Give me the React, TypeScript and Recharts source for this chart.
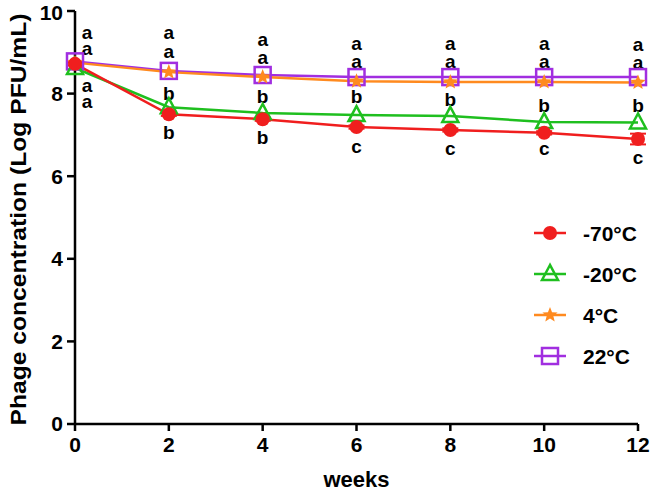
import { ComposedChart, Line, XAxis, YAxis, ReferenceDot, ErrorBar } from 'recharts';

const weeks = [0, 2, 4, 6, 8, 10, 12];
const minus70 = [8.72, 7.5, 7.38, 7.19, 7.12, 7.05, 6.9];
const minus70Err = [0.04, 0.04, 0.04, 0.04, 0.04, 0.04, 0.13];
const minus20 = [8.62, 7.67, 7.53, 7.48, 7.46, 7.31, 7.3];
const plus4 = [8.75, 8.52, 8.4, 8.3, 8.28, 8.28, 8.27];
const plus22 = [8.78, 8.55, 8.45, 8.4, 8.4, 8.4, 8.4];

const yTicks = [0, 2, 4, 6, 8, 10];

// significance letters, four per week
const letterWeek = [0, 0, 0, 0, 2, 2, 2, 2, 4, 4, 4, 4, 6, 6, 6, 6, 8, 8, 8, 8, 10, 10, 10, 10, 12, 12, 12, 12];
const letterText = ['a', 'a', 'a', 'a', 'a', 'a', 'b', 'b', 'a', 'a', 'b', 'b', 'a', 'a', 'b', 'c', 'a', 'a', 'b', 'c', 'a', 'a', 'b', 'c', 'a', 'a', 'b', 'c'];
const letterY = [9.49, 9.08, 8.2, 7.82, 9.47, 9.03, 8.01, 7.05, 9.3, 8.88, 7.94, 6.94, 9.22, 8.78, 7.94, 6.71, 9.22, 8.78, 7.85, 6.68, 9.22, 8.78, 7.72, 6.68, 9.18, 8.75, 7.7, 6.46];

const RED = '#f01e1e';
const GREEN = '#1fbf1f';
const ORANGE = '#ff8a1f';
const PURPLE = '#a12ee0';
const FONT = '"Liberation Sans", Arial, sans-serif';

const data = weeks.map((w, i) => ({
  week: w,
  m70: minus70[i],
  m70err: minus70Err[i],
  m20: minus20[i],
  p4: plus4[i],
  p22: plus22[i],
}));

function starPath(cx: number, cy: number, ro: number, ri: number) {
  let d = '';
  for (let k = 0; k < 10; k++) {
    const r = k % 2 === 0 ? ro : ri;
    const a = -Math.PI / 2 + (k * Math.PI) / 5;
    d += (k === 0 ? 'M' : 'L') + (cx + r * Math.cos(a)).toFixed(2) + ',' + (cy + r * Math.sin(a)).toFixed(2);
  }
  return d + 'Z';
}

function Marker({ kind, cx, cy }: { kind: string; cx: number; cy: number }) {
  if (kind === 'circle') return <circle cx={cx} cy={cy} r={7} fill={RED} />;
  if (kind === 'triangle')
    return (
      <polygon
        points={`${cx},${cy - 9} ${cx - 8},${cy + 6} ${cx + 8},${cy + 6}`}
        fill="none"
        stroke={GREEN}
        strokeWidth={2.5}
      />
    );
  if (kind === 'star') return <path d={starPath(cx, cy, 8, 3.5)} fill={ORANGE} />;
  return <rect x={cx - 8} y={cy - 8} width={16} height={16} fill="none" stroke={PURPLE} strokeWidth={2.5} />;
}

const dotFor = (kind: string) => (p: any) => <Marker key={`${kind}-${p.index}`} kind={kind} cx={p.cx} cy={p.cy} />;

const legendItems = [
  { label: '-70°C', color: RED, kind: 'circle' },
  { label: '-20°C', color: GREEN, kind: 'triangle' },
  { label: '4°C', color: ORANGE, kind: 'star' },
  { label: '22°C', color: PURPLE, kind: 'square' },
];

function LegendBox() {
  return (
    <svg width={130} height={160} style={{ position: 'absolute', left: 525, top: 215 }}>
      {legendItems.map((it, i) => {
        const y = 18 + i * 41;
        return (
          <g key={it.label}>
            <line x1={9} x2={41} y1={y} y2={y} stroke={it.color} strokeWidth={2.5} />
            <Marker kind={it.kind} cx={25} cy={y} />
            <text x={58} y={y} dominantBaseline="central" fontFamily={FONT} fontWeight="bold" fontSize={21} fill="#000">
              {it.label}
            </text>
          </g>
        );
      })}
    </svg>
  );
}

function YLabel(props: any) {
  const vb = props.viewBox;
  const cy = vb.y + vb.height / 2 + 2;
  return (
    <text
      x={18}
      y={cy}
      transform={`rotate(-90, 18, ${cy})`}
      textAnchor="middle"
      dominantBaseline="central"
      fontFamily={FONT}
      fontWeight="bold"
      fontSize={22}
      textLength={412}
      lengthAdjust="spacingAndGlyphs"
      fill="#000"
    >
      Phage concentration (Log PFU/mL)
    </text>
  );
}

export default function App() {
  return (
    <div style={{ position: 'absolute', left: 0, top: 0, width: 657, height: 493, background: '#fff' }}>
      <ComposedChart width={657} height={493} data={data} margin={{ top: 11, right: 19, bottom: 0, left: 0 }}>
        <XAxis
          dataKey="week"
          type="number"
          domain={[0, 12]}
          ticks={weeks}
          height={69}
          stroke="#000"
          strokeWidth={2.5}
          tickSize={7}
          tickMargin={6}
          tick={{ fill: '#000', fontSize: 21, fontWeight: 'bold', fontFamily: FONT }}
          label={{ value: 'weeks', position: 'insideBottom', offset: 6, fill: '#000', fontSize: 22, fontWeight: 'bold', fontFamily: FONT }}
        />
        <YAxis
          type="number"
          domain={[0, 10]}
          ticks={yTicks}
          width={75}
          stroke="#000"
          strokeWidth={2.5}
          tickSize={8}
          tickMargin={4}
          tick={{ fill: '#000', fontSize: 21, fontWeight: 'bold', fontFamily: FONT }}
          label={<YLabel />}
        />
        <Line dataKey="p22" stroke={PURPLE} strokeWidth={2.5} dot={dotFor('square')} isAnimationActive={false} />
        <Line dataKey="p4" stroke={ORANGE} strokeWidth={2.5} dot={dotFor('star')} isAnimationActive={false} />
        <Line dataKey="m20" stroke={GREEN} strokeWidth={2.5} dot={dotFor('triangle')} isAnimationActive={false} />
        <Line dataKey="m70" stroke={RED} strokeWidth={2.5} dot={dotFor('circle')} isAnimationActive={false}>
          <ErrorBar dataKey="m70err" width={8} stroke={RED} strokeWidth={2} isAnimationActive={false} />
        </Line>
        {letterText.map((t, i) => (
          <ReferenceDot
            key={`l${i}`}
            x={letterWeek[i]}
            y={letterY[i]}
            r={1}
            shape={(p: any) => (
              <text
                x={p.cx + (letterWeek[i] === 0 ? 12 : 0)}
                y={p.cy}
                textAnchor="middle"
                dominantBaseline="central"
                fontFamily={FONT}
                fontWeight="bold"
                fontSize={19}
                fill="#000"
              >
                {t}
              </text>
            )}
          />
        ))}
      </ComposedChart>
      <LegendBox />
    </div>
  );
}
